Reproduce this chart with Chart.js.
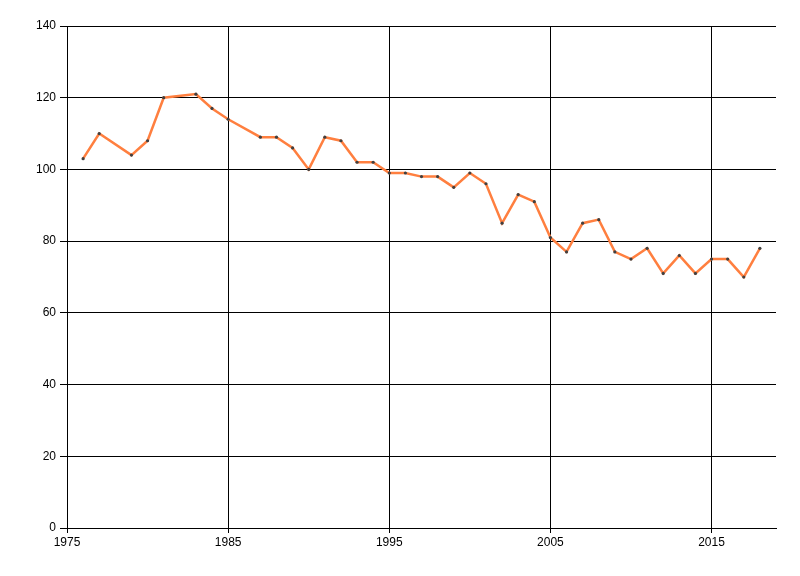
<!DOCTYPE html>
<html>
<head>
<meta charset="utf-8">
<script src="https://cdn.jsdelivr.net/npm/chart.js@4/dist/chart.umd.min.js"></script>
<style>
  html, body { margin: 0; padding: 0; background: #fff; }
  #wrap { width: 800px; height: 576px; }
</style>
</head>
<body>
<div id="wrap"><canvas id="lineChart"></canvas></div>
<script>
// data
const years = [1976, 1977, 1979, 1980, 1981, 1983, 1984, 1985, 1987, 1988, 1989, 1990,
  1991, 1992, 1993, 1994, 1995, 1996, 1997, 1998, 1999, 2000, 2001, 2002, 2003,
  2004, 2005, 2006, 2007, 2008, 2009, 2010, 2011, 2012, 2013, 2014, 2015, 2016, 2017, 2018];
const values = [103, 110, 104, 108, 120, 121, 117, 114, 109, 109, 106, 100,
  109, 108, 102, 102, 99, 99, 98, 98, 95, 99, 96, 85, 93,
  91, 81, 77, 85, 86, 77, 75, 78, 71, 76, 71, 75, 75, 70, 78];
const xTicks = [1975, 1985, 1995, 2005, 2015];
const yTicks = [0, 20, 40, 60, 80, 100, 120, 140];

const ctx = document.getElementById('lineChart').getContext('2d');

const config = {
  type: 'line',
  data: {
    datasets: [{
      data: years.map((y, i) => ({x: y, y: values[i]})),
      borderColor: '#ff7f3f',
      borderWidth: 2.5,
      tension: 0,
      pointRadius: 1.6,
      pointBackgroundColor: '#404040',
      pointBorderWidth: 0
    }]
  },
  options: {
    responsive: true,
    maintainAspectRatio: false,
    animation: false,
    layout: { padding: { top: 26, right: 24, left: 0, bottom: 0 } },
    plugins: { legend: { display: false }, tooltip: { enabled: false } },
    scales: {
      x: {
        type: 'linear',
        min: 1975,
        max: 2019,
        afterBuildTicks: (scale) => { scale.ticks = xTicks.map(v => ({value: v})); },
        afterFit: (scale) => { scale.height = 48; },
        grid: { color: '#000', lineWidth: 1, tickLength: 5 },
        border: { color: '#000', width: 1 },
        ticks: {
          color: '#000',
          font: { family: 'Liberation Sans', size: 12 },
          padding: 2,
          maxRotation: 0,
          autoSkip: false,
          callback: (v) => String(v)
        }
      },
      y: {
        min: 0,
        max: 140,
        afterBuildTicks: (scale) => { scale.ticks = yTicks.map(v => ({value: v})); },
        afterFit: (scale) => { scale.width = 67; },
        grid: { color: '#000', lineWidth: 1, tickLength: 7 },
        border: { color: '#000', width: 1 },
        ticks: {
          color: '#000',
          font: { family: 'Liberation Sans', size: 12 },
          padding: 4
        }
      }
    }
  }
};

const myChart = new Chart(ctx, config);
</script>
</body>
</html>
